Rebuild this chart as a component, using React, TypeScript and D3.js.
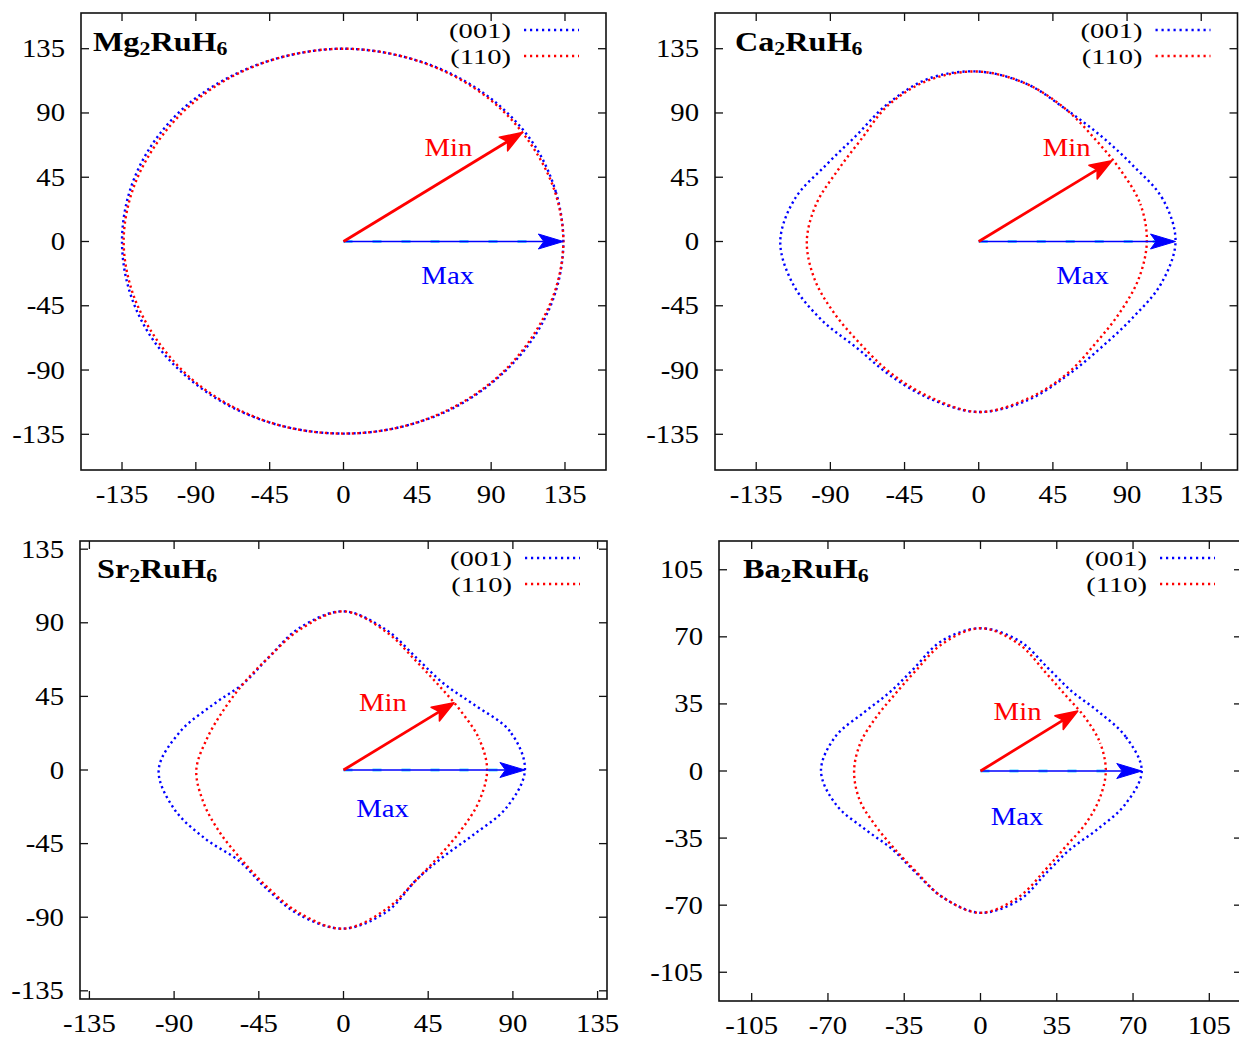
import React from 'react';
import * as d3 from 'd3';

// Polar sampling angles (degrees) shared by every curve
const ANGLES = [0, 15, 30, 45, 60, 75, 90, 105, 120, 135, 150, 165, 180, 195, 210, 225, 240, 255, 270, 285, 300, 315, 330, 345];

// Directional values in the (001) and (110) planes, one radius per angle
const MG_001 = [134, 134, 134.5, 134.5, 134.5, 134.5, 135, 134.5, 134.5, 135, 135, 135, 135, 135, 135, 134.5, 134.5, 134.5, 134.5, 134.5, 134.5, 134, 134, 134];
const MG_110 = [134, 133.5, 133, 133.5, 134, 134.5, 135, 134.5, 134, 133.5, 133, 133.5, 134, 133.5, 133, 133.5, 134, 134.5, 134.5, 134.5, 134, 133.5, 133, 133.5];

const CA_001 = [119.4, 115.5, 107.5, 104.7, 106.5, 114, 119, 118, 111, 105, 107, 115.5, 120.4, 116.5, 110, 105, 108, 114, 119.4, 115, 108, 105, 107.5, 114.5];
const CA_110 = [102, 101.5, 99.5, 100.5, 106.5, 114, 119, 117, 110, 101, 99, 102, 104.3, 103, 101, 101.5, 106.5, 113, 119.4, 114, 107, 100.5, 99, 100.5];

const SR_001 = [96.4, 91.5, 80, 75, 78.5, 88.5, 97, 90, 79.5, 75, 80, 90, 98.2, 93, 84.5, 78.5, 83, 91.5, 97, 89.5, 77.5, 75, 79.5, 89.5];
const SR_110 = [76.3, 74.5, 72, 72.3, 77, 87.5, 97, 89, 79.5, 75, 73.5, 75, 78.2, 77, 76, 77, 82, 90.5, 97, 88, 77.5, 73, 72.5, 74.5];

const BA_001 = [74, 69, 62.3, 59, 62, 70, 74.5, 70, 61.5, 58.5, 61.5, 69, 73.2, 68.5, 61, 57.5, 60.5, 68, 74, 69.5, 61, 58, 61.5, 68.5];
const BA_110 = [57.5, 56.8, 55.5, 55.5, 59.5, 68.5, 74.5, 68.5, 60, 56, 55.5, 57, 58, 57.5, 56, 56.5, 60, 68, 74, 68, 59.5, 55.5, 55.5, 56.5];

// Extreme directions: [angle (deg), value]
const MG_MIN = [35, 133];
const MG_MAX = [0, 134];
const CA_MIN = [35, 98.6];
const CA_MAX = [0, 119.4];
const SR_MIN = [35, 71.7];
const SR_MAX = [0, 96.4];
const BA_MIN = [35, 54.5];
const BA_MAX = [0, 74];

// Tick values
const TICKS_45 = [-135, -90, -45, 0, 45, 90, 135];
const TICKS_35 = [-105, -70, -35, 0, 35, 70, 105];

const SERIES_LABELS = ['(001)', '(110)'];

const FONT = 'Liberation Serif, Tinos, Times New Roman, Times, serif';
const STRETCH = 1.15;
const BLUE = '#0000ff';
const RED = '#ff0000';
const DOTS = '2.2 3.2';
const LEGEND_DOTS = '2.2 3.8';
const DEG = Math.PI / 180;

type PanelCfg = {
  name: string;
  sub1: string;
  rest: string;
  sub2: string;
  left: number;
  right: number;
  top: number;
  bottom: number;
  xDom: [number, number];
  yDom: [number, number];
  ticks: number[];
  titleDx: number;
  titleDy: number;
  r001: number[];
  r110: number[];
  minA: number[];
  maxA: number[];
  minLabel: [number, number];
  maxLabel: [number, number];
};

const PANELS: PanelCfg[] = [
  {
    name: 'Mg', sub1: '2', rest: 'RuH', sub2: '6',
    left: 81, right: 606, top: 13, bottom: 470,
    xDom: [-160, 160], yDom: [-160, 160], ticks: TICKS_45,
    titleDx: 12, titleDy: 38,
    r001: MG_001, r110: MG_110, minA: MG_MIN, maxA: MG_MAX,
    minLabel: [64, 60], maxLabel: [63.5, -30],
  },
  {
    name: 'Ca', sub1: '2', rest: 'RuH', sub2: '6',
    left: 715, right: 1237.5, top: 13, bottom: 470,
    xDom: [-160, 157], yDom: [-160, 160], ticks: TICKS_45,
    titleDx: 20, titleDy: 38,
    r001: CA_001, r110: CA_110, minA: CA_MIN, maxA: CA_MAX,
    minLabel: [53.4, 60], maxLabel: [63, -30],
  },
  {
    name: 'Sr', sub1: '2', rest: 'RuH', sub2: '6',
    left: 80, right: 607, top: 541, bottom: 999,
    xDom: [-140, 140], yDom: [-140, 140], ticks: TICKS_45,
    titleDx: 17, titleDy: 37,
    r001: SR_001, r110: SR_110, minA: SR_MIN, maxA: SR_MAX,
    minLabel: [21, 36], maxLabel: [20.8, -29],
  },
  {
    name: 'Ba', sub1: '2', rest: 'RuH', sub2: '6',
    left: 719, right: 1242, top: 541, bottom: 1001,
    xDom: [-120, 120], yDom: [-120, 120], ticks: TICKS_35,
    titleDx: 24, titleDy: 37,
    r001: BA_001, r110: BA_110, minA: BA_MIN, maxA: BA_MAX,
    minLabel: [17, 26.6], maxLabel: [16.8, -28.2],
  },
];

function arrowHead(ox: number, oy: number, tx: number, ty: number, len: number, half: number) {
  const dx = tx - ox;
  const dy = ty - oy;
  const d = Math.hypot(dx, dy);
  const ux = dx / d;
  const uy = dy / d;
  const nx = -uy;
  const ny = ux;
  const bx = tx - len * ux;
  const by = ty - len * uy;
  const kx = tx - 0.78 * len * ux;
  const ky = ty - 0.78 * len * uy;
  const poly = [
    [tx, ty],
    [bx + half * nx, by + half * ny],
    [kx, ky],
    [bx - half * nx, by - half * ny],
  ];
  return { poly: poly.map((p) => p.join(',')).join(' '), neck: [kx, ky] };
}

function Txt({ x, y, anchor = 'start', size = 25, sx = STRETCH, fill = '#000', children }: any) {
  return (
    <text
      transform={`translate(${x},${y}) scale(${sx},1)`}
      textAnchor={anchor}
      fontFamily={FONT}
      fontSize={size}
      fill={fill}
    >
      {children}
    </text>
  );
}

function Panel({ p, idx }: { p: PanelCfg; idx: number }) {
  const x = d3.scaleLinear().domain(p.xDom).range([p.left, p.right]);
  const y = d3.scaleLinear().domain(p.yDom).range([p.bottom, p.top]);
  const toPx = (a: number, r: number): [number, number] => [x(r * Math.cos(a * DEG)), y(r * Math.sin(a * DEG))];
  const line = d3.line().curve(d3.curveCatmullRomClosed.alpha(0.5));
  const path001 = line(ANGLES.map((a, i) => toPx(a, p.r001[i])))!;
  const path110 = line(ANGLES.map((a, i) => toPx(a, p.r110[i])))!;

  const ox = x(0);
  const oy = y(0);
  const [minTx, minTy] = toPx(p.minA[0], p.minA[1]);
  const [maxTx, maxTy] = toPx(p.maxA[0], p.maxA[1]);
  const minHead = arrowHead(ox, oy, minTx, minTy, 22, 8);
  const maxHead = arrowHead(ox, oy, maxTx, maxTy, 25, 7.5);

  const tickLen = 8;
  const clipId = `clip-${idx}`;

  return (
    <g>
      <defs>
        <clipPath id={clipId}>
          <rect x={p.left} y={p.top} width={p.right - p.left} height={p.bottom - p.top} />
        </clipPath>
      </defs>

      {/* curves */}
      <g clipPath={`url(#${clipId})`} fill="none">
        <path d={path001} stroke={BLUE} strokeWidth={2.4} strokeDasharray={DOTS} />
        <path d={path110} stroke={RED} strokeWidth={2.4} strokeDasharray={DOTS} strokeDashoffset={2.7} />
      </g>

      {/* Max arrow */}
      <line x1={ox} y1={oy} x2={maxHead.neck[0]} y2={maxHead.neck[1]} stroke="#55d8ff" strokeWidth={3.2} strokeDasharray="9 20" />
      <line x1={ox} y1={oy} x2={maxHead.neck[0]} y2={maxHead.neck[1]} stroke={BLUE} strokeWidth={1.6} />
      <polygon points={maxHead.poly} fill={BLUE} stroke={BLUE} strokeWidth={1} strokeLinejoin="round" />

      {/* Min arrow */}
      <line x1={ox} y1={oy} x2={minHead.neck[0]} y2={minHead.neck[1]} stroke={RED} strokeWidth={2.8} />
      <polygon points={minHead.poly} fill={RED} stroke={RED} strokeWidth={1.5} strokeLinejoin="round" />

      <Txt x={x(p.minLabel[0])} y={y(p.minLabel[1])} anchor="middle" fill={RED}>Min</Txt>
      <Txt x={x(p.maxLabel[0])} y={y(p.maxLabel[1])} anchor="middle" fill={BLUE}>Max</Txt>

      {/* frame */}
      <rect x={p.left} y={p.top} width={p.right - p.left} height={p.bottom - p.top} fill="none" stroke="#111" strokeWidth={1.6} />

      {/* ticks and labels */}
      {p.ticks.map((t) => (
        <g key={`x${t}`}>
          <line x1={x(t)} x2={x(t)} y1={p.bottom} y2={p.bottom - tickLen} stroke="#111" strokeWidth={1.3} />
          <line x1={x(t)} x2={x(t)} y1={p.top} y2={p.top + tickLen} stroke="#111" strokeWidth={1.3} />
          <Txt x={x(t)} y={p.bottom + 33} anchor="middle">{String(t)}</Txt>
        </g>
      ))}
      {p.ticks.map((t) => (
        <g key={`y${t}`}>
          <line x1={p.left} x2={p.left + tickLen} y1={y(t)} y2={y(t)} stroke="#111" strokeWidth={1.3} />
          <line x1={p.right} x2={p.right - tickLen} y1={y(t)} y2={y(t)} stroke="#111" strokeWidth={1.3} />
          <Txt x={p.left - 16} y={y(t) + 8.5} anchor="end">{String(t)}</Txt>
        </g>
      ))}

      {/* title */}
      <text
        transform={`translate(${p.left + p.titleDx},${p.top + p.titleDy}) scale(${STRETCH},1)`}
        fontFamily={FONT}
        fontSize={28}
        fontWeight="bold"
        fill="#000"
      >
        <tspan>{p.name}</tspan>
        <tspan fontSize={19} dy={4}>{p.sub1}</tspan>
        <tspan dy={-4}>{p.rest}</tspan>
        <tspan fontSize={19} dy={4}>{p.sub2}</tspan>
      </text>

      {/* legend */}
      <Txt x={p.right - 95} y={p.top + 25} anchor="end" size={21.5} sx={1.33}>{SERIES_LABELS[0]}</Txt>
      <Txt x={p.right - 95} y={p.top + 51} anchor="end" size={21.5} sx={1.33}>{SERIES_LABELS[1]}</Txt>
      <line x1={p.right - 82} x2={p.right - 27} y1={p.top + 17} y2={p.top + 17} stroke={BLUE} strokeWidth={2.4} strokeDasharray={LEGEND_DOTS} />
      <line x1={p.right - 82} x2={p.right - 27} y1={p.top + 43} y2={p.top + 43} stroke={RED} strokeWidth={2.4} strokeDasharray={LEGEND_DOTS} />
    </g>
  );
}

export default function App() {
  return (
    <svg
      width={1239}
      height={1041}
      viewBox="0 0 1239 1041"
      style={{ position: 'absolute', left: 0, top: 0, background: '#fff' }}
    >
      <rect x={0} y={0} width={1239} height={1041} fill="#fff" />
      {PANELS.map((p, i) => (
        <Panel key={p.name} p={p} idx={i} />
      ))}
    </svg>
  );
}
